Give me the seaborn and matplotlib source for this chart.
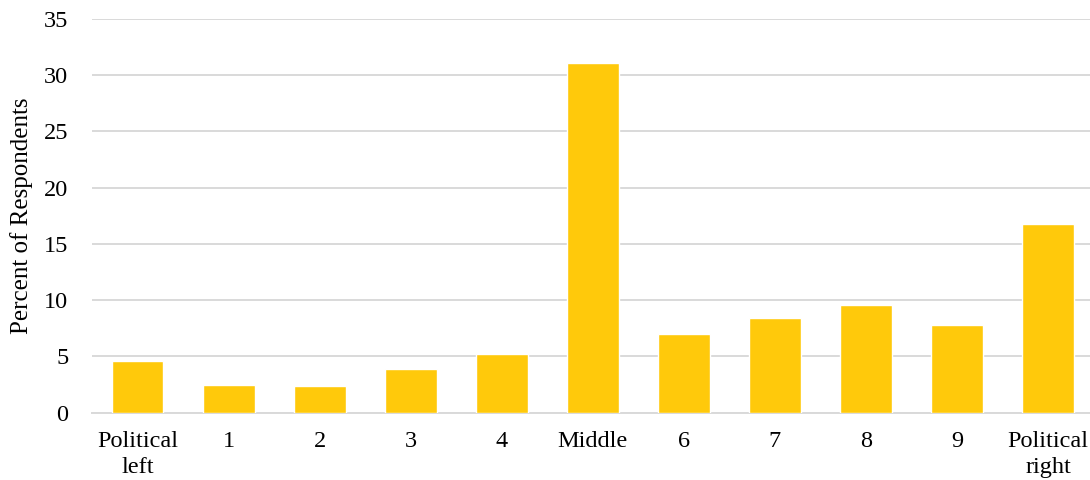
import matplotlib
matplotlib.use("Agg")
import matplotlib.pyplot as plt
import seaborn as sns
import pandas as pd

# Self-placement on the left-right scale
categories = ["Political\nleft", "1", "2", "3", "4", "Middle", "6", "7", "8", "9", "Political\nright"]
percent = [4.6, 2.47, 2.4, 3.9, 5.2, 31.1, 7.03, 8.43, 9.6, 7.83, 16.75]
y_ticks = [0, 5, 10, 15, 20, 25, 30, 35]

sns.set_theme(style="white")
plt.rcParams["font.family"] = ["Liberation Serif", "DejaVu Serif"]

df = pd.DataFrame({"category": categories, "percent": percent})

fig = plt.figure(figsize=(10.9, 4.8), dpi=100)
ax = fig.add_axes([92 / 1090, 67.3 / 480, 1001.5 / 1090, 393.7 / 480])

sns.barplot(data=df, x="category", y="percent", color="#FFC90B", saturation=1,
            width=0.57, edgecolor="white", linewidth=1.0, ax=ax, zorder=3)

ax.set_ylim(0, 35)
ax.set_yticks(y_ticks)
ax.set_yticklabels([str(t) for t in y_ticks])
ax.grid(axis="y", color="#d9d9d9", linewidth=1.4, zorder=0)
ax.set_axisbelow(True)

for side in ["top", "right", "left"]:
    ax.spines[side].set_visible(False)
ax.spines["bottom"].set_color("#d9d9d9")
ax.spines["bottom"].set_linewidth(1.4)

ax.tick_params(axis="y", length=0, pad=17, labelsize=17.5, colors="black")
ax.tick_params(axis="x", length=0, pad=13, labelsize=17.5, colors="black")
ax.set_xlabel("")
ax.set_ylabel("Percent of Respondents", fontsize=18, labelpad=8, color="black")
for lbl in ax.get_xticklabels():
    lbl.set_linespacing(1.3)

fig.savefig("out.png", dpi=100)
